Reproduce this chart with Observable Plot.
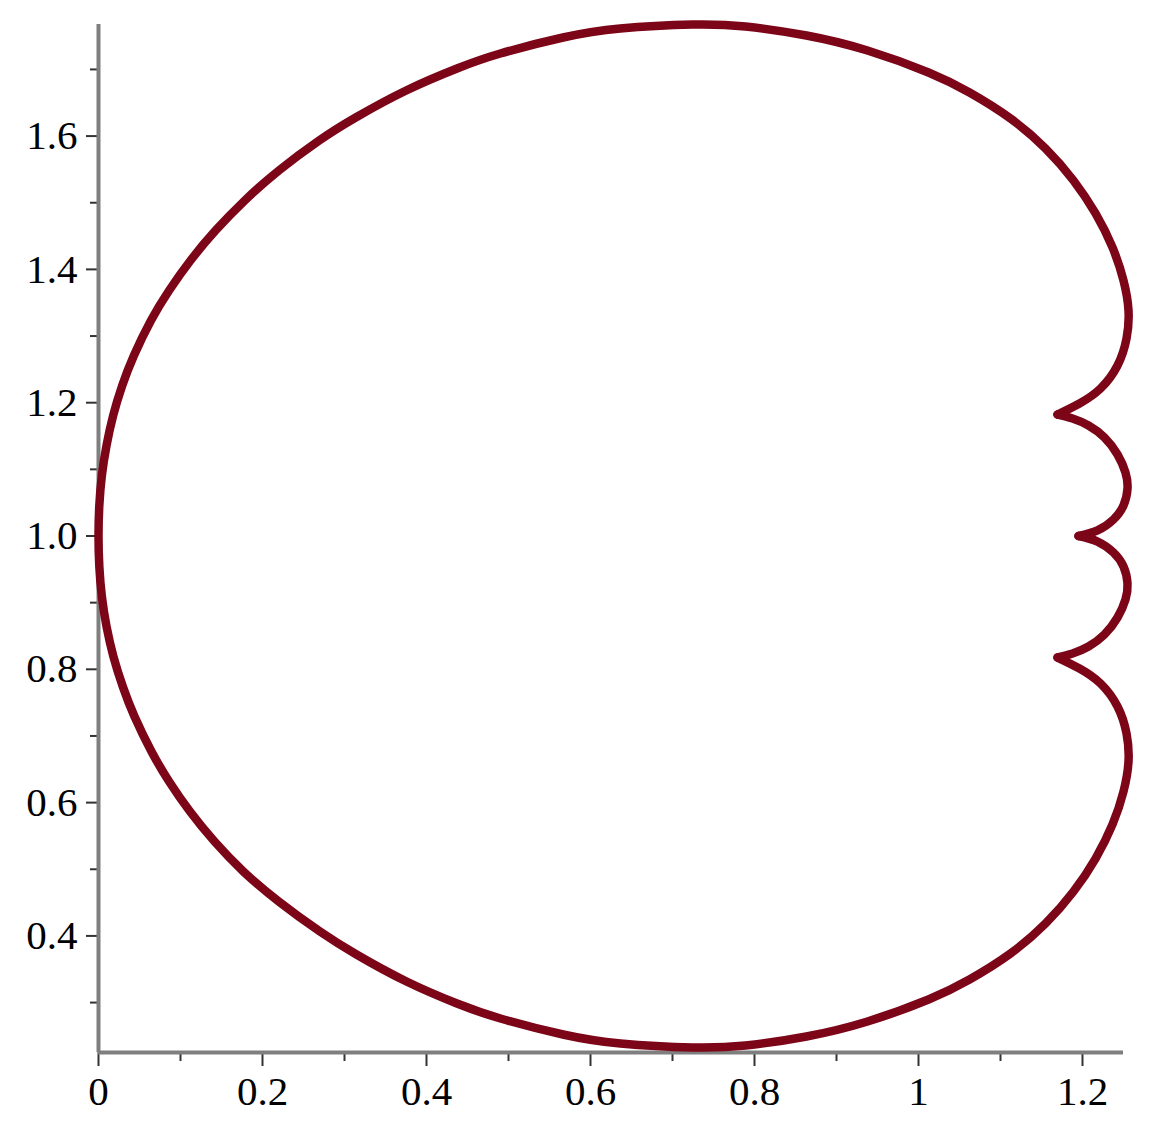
<!DOCTYPE html>
<html>
<head>
<meta charset="utf-8">
<script src="https://cdn.jsdelivr.net/npm/d3@7"></script>
<script src="https://cdn.jsdelivr.net/npm/@observablehq/plot@0.6"></script>
<style>
  html, body { margin: 0; padding: 0; background: #ffffff; }
  #chart svg { display: block; }
</style>
</head>
<body>
<div id="chart"></div>
<script>
// Upper outer arc: from the upper cusp, over the top, to the leftmost point
const upperX = [1.1695, 1.1963, 1.2220, 1.2427, 1.2537, 1.2561, 1.2500, 1.2366, 1.2159, 1.1890, 1.1549, 1.1122,
  1.0622, 1.0122, 0.9378, 0.8634, 0.7890, 0.7244, 0.6362, 0.5665, 0.4900, 0.4372, 0.3752, 0.3137, 0.2691,
  0.2200, 0.1784, 0.1428, 0.1122, 0.0861, 0.0640, 0.0432, 0.0290, 0.0179, 0.0098, 0.0041, 0.0010, 0.0000];
const upperY = [1.1823, 1.1988, 1.2213, 1.2558, 1.2963, 1.3383, 1.3833, 1.4329, 1.4839, 1.5334, 1.5814, 1.6264,
  1.6654, 1.6954, 1.7284, 1.7509, 1.7644, 1.7674, 1.7614, 1.7479, 1.7239, 1.7014, 1.6684, 1.6279, 1.5934,
  1.5484, 1.5034, 1.4584, 1.4133, 1.3683, 1.3233, 1.2708, 1.2258, 1.1808, 1.1358, 1.0908, 1.0458, 1.0000];

// Lower outer arc: from the leftmost point, under the bottom, to the lower cusp
const lowerX = [0.0010, 0.0041, 0.0098, 0.0182, 0.0296, 0.0439, 0.0646, 0.0861, 0.1116, 0.1415, 0.1768, 0.2200,
  0.2701, 0.3146, 0.3756, 0.4372, 0.4902, 0.5665, 0.6366, 0.7244, 0.7890, 0.8634, 0.9378, 1.0122, 1.0622,
  1.1122, 1.1549, 1.1890, 1.2159, 1.2366, 1.2500, 1.2561, 1.2537, 1.2427, 1.2220, 1.1963, 1.1695];
const lowerY = [0.9542, 0.9092, 0.8642, 0.8192, 0.7742, 0.7292, 0.6767, 0.6317, 0.5866, 0.5416, 0.4966, 0.4516,
  0.4066, 0.3721, 0.3316, 0.2986, 0.2761, 0.2521, 0.2386, 0.2326, 0.2356, 0.2491, 0.2716, 0.3046, 0.3346,
  0.3736, 0.4186, 0.4666, 0.5161, 0.5672, 0.6167, 0.6617, 0.7037, 0.7442, 0.7787, 0.8012, 0.8177];

// Upper small lobe: upper cusp -> middle cusp
const lobe1X = [1.1695, 1.1878, 1.2073, 1.2268, 1.2427, 1.2524, 1.2549, 1.2500, 1.2378, 1.2183, 1.1951];
const lobe1Y = [1.1823, 1.1763, 1.1658, 1.1478, 1.1223, 1.0953, 1.0713, 1.0458, 1.0248, 1.0083, 1.0000];

// Lower small lobe: middle cusp -> lower cusp
const lobe2X = [1.1951, 1.2183, 1.2378, 1.2500, 1.2549, 1.2524, 1.2427, 1.2268, 1.2073, 1.1878, 1.1695];
const lobe2Y = [1.0000, 0.9917, 0.9752, 0.9542, 0.9287, 0.9047, 0.8777, 0.8522, 0.8342, 0.8237, 0.8177];

// Axis ticks
const xMajor = [0, 0.2, 0.4, 0.6, 0.8, 1, 1.2];
const xMinor = [0.1, 0.3, 0.5, 0.7, 0.9, 1.1];
const yMajor = [0.4, 0.6, 0.8, 1.0, 1.2, 1.4, 1.6];
const yMinor = [0.3, 0.5, 0.7, 0.9, 1.1, 1.3, 1.5, 1.7];
const xRange = [0, 1.25];
const yRange = [0.2251, 1.7674];

// The outer arc is one smooth piece (upper + lower); the lobes meet it at the cusps
const outerXs = upperX.concat(lowerX);
const outerYs = upperY.concat(lowerY);
const segments = [
  {name: "outer", xs: outerXs, ys: outerYs},
  {name: "lobe1", xs: lobe1X, ys: lobe1Y},
  {name: "lobe2", xs: lobe2X, ys: lobe2Y}
];
const rows = segments.flatMap(s => s.xs.map((x, i) => ({seg: s.name, x, y: s.ys[i]})));

const curveColor = "#7c0518";
const axisColor = "#7f7f7f";
const tickColor = "#333333";
const font = "'Liberation Serif', 'Times New Roman', serif";

const chart = Plot.plot({
  width: 1164,
  height: 1139,
  marginLeft: 98,
  marginRight: 41,
  marginTop: 24,
  marginBottom: 87,
  style: {fontFamily: font, background: "#ffffff", color: "#000000"},
  x: {domain: xRange, axis: null},
  y: {domain: yRange, axis: null},
  marks: [
    Plot.axisY(yMinor, {anchor: "left", tickSize: 8, tickFormat: () => "", stroke: tickColor, strokeWidth: 2, label: null}),
    Plot.axisY(yMajor, {anchor: "left", tickSize: 12, tickPadding: 9, tickFormat: d3.format(".1f"),
      stroke: tickColor, strokeWidth: 2, fontSize: 41, fontFamily: font, fill: "#000", label: null}),
    Plot.axisX(xMinor, {anchor: "bottom", tickSize: 9, tickFormat: () => "", stroke: tickColor, strokeWidth: 2, label: null}),
    Plot.axisX(xMajor, {anchor: "bottom", tickSize: 14, tickPadding: 9, tickFormat: d3.format("~g"),
      stroke: tickColor, strokeWidth: 2, fontSize: 41, fontFamily: font, fill: "#000", label: null}),
    Plot.ruleX([xRange[0]], {stroke: axisColor, strokeWidth: 4}),
    Plot.ruleY([yRange[0]], {stroke: axisColor, strokeWidth: 4}),
    Plot.line(rows, {x: "x", y: "y", z: "seg", stroke: curveColor, strokeWidth: 8.5,
      curve: "natural", strokeLinejoin: "round", strokeLinecap: "round"})
  ]
});
document.getElementById("chart").appendChild(chart);
</script>
</body>
</html>
